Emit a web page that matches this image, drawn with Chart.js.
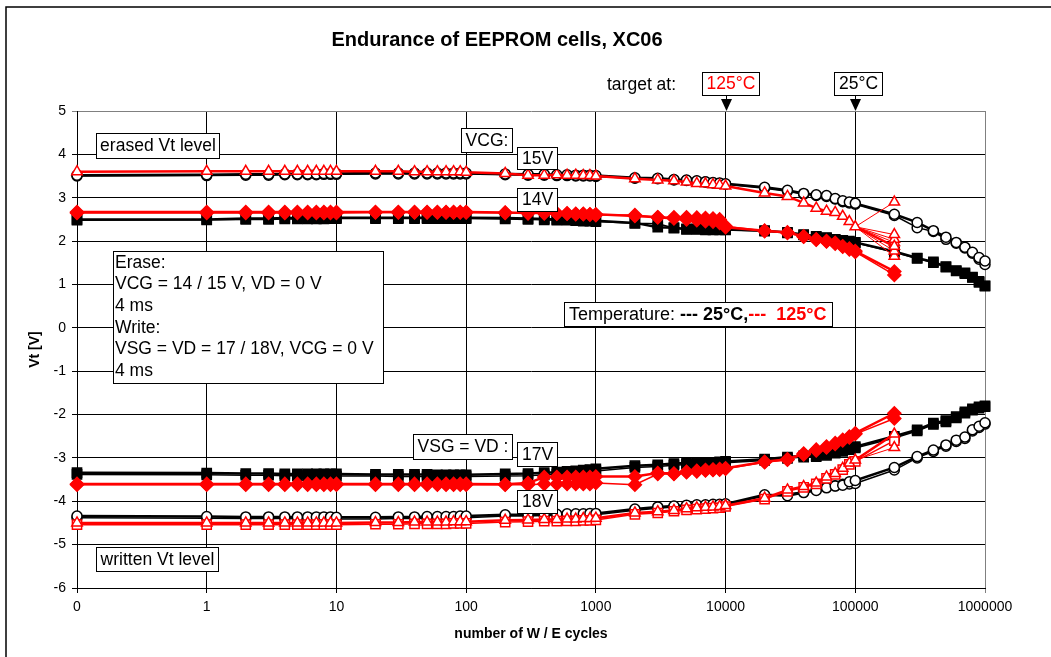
<!DOCTYPE html>
<html>
<head>
<meta charset="utf-8">
<script src="https://cdn.jsdelivr.net/npm/chart.js@4.4.0/dist/chart.umd.min.js"></script>
<style>
  html, body { margin: 0; padding: 0; background: #fff; }
</style>
</head>
<body>
<canvas id="endurance-chart" width="1051" height="657"></canvas>
<script>
// W/E cycles where the cells were measured (0 = fresh cell)
const cycles = [0,
  1, 2, 3, 4, 5, 6, 7, 8, 9, 10,
  20, 30, 40, 50, 60, 70, 80, 90, 100,
  200, 300, 400, 500, 600, 700, 800, 900, 1000,
  2000, 3000, 4000, 5000, 6000, 7000, 8000, 9000, 10000,
  20000, 30000, 40000, 50000, 60000, 70000, 80000, 90000, 100000,
  200000, 300000, 400000, 500000, 600000, 700000, 800000, 900000, 1000000];

const xTicks = [0.1, 1, 10, 100, 1000, 10000, 100000, 1000000];
const ZERO_AT = 0.1; // the "0" cycle sits one decade left of 1 on the log axis

// erased level, VCG = 15V
const e15Cold = [3.52,
  3.53, 3.54, 3.54, 3.55, 3.55, 3.55, 3.55, 3.56, 3.56, 3.56,
  3.57, 3.57, 3.57, 3.57, 3.57, 3.57, 3.57, 3.57, 3.57,
  3.55, 3.54, 3.54, 3.53, 3.53, 3.52, 3.52, 3.52, 3.51,
  3.46, 3.45, 3.42, 3.41, 3.39, 3.37, 3.35, 3.34, 3.32,
  3.24, 3.17, 3.10, 3.07, 3.05, 2.98, 2.93, 2.90, 2.87,
  2.62, 2.43, 2.24, 2.09, 1.97, 1.86, 1.74, 1.62, 1.54];
const e15Cold2 = [3.50,
  3.51, 3.52, 3.52, 3.53, 3.53, 3.53, 3.53, 3.54, 3.54, 3.54,
  3.55, 3.55, 3.55, 3.55, 3.55, 3.55, 3.55, 3.55, 3.55,
  3.53, 3.52, 3.52, 3.51, 3.51, 3.50, 3.50, 3.50, 3.49,
  3.45, 3.44, 3.41, 3.40, 3.38, 3.36, 3.34, 3.33, 3.31,
  3.22, 3.15, 3.08, 3.05, 3.03, 2.97, 2.91, 2.88, 2.85,
  2.59, 2.31, 2.22, 2.04, 1.95, 1.84, 1.72, 1.58, 1.46];
const e15Hot = [3.60,
  3.61, 3.61, 3.61, 3.61, 3.61, 3.61, 3.61, 3.61, 3.61, 3.61,
  3.61, 3.61, 3.60, 3.60, 3.60, 3.60, 3.60, 3.60, 3.59,
  3.56, 3.52, 3.52, 3.53, 3.52, 3.52, 3.51, 3.51, 3.50,
  3.44, 3.41, 3.39, 3.36, 3.33, 3.32, 3.30, 3.29, 3.27,
  3.11, 3.03, 2.88, 2.76, 2.69, 2.66, 2.57, 2.45, 2.33,
  1.88];
const e15HotAt200k = [2.90, 2.15, 2.04, 1.97, 1.77, 1.65];

// erased level, VCG = 14V
const e14Cold = [2.50,
  2.50, 2.52, 2.52, 2.53, 2.53, 2.53, 2.53, 2.53, 2.54, 2.54,
  2.54, 2.54, 2.54, 2.54, 2.54, 2.54, 2.54, 2.54, 2.54,
  2.53, 2.52, 2.51, 2.50, 2.50, 2.49, 2.48, 2.48, 2.47,
  2.42, 2.32, 2.31, 2.28, 2.28, 2.27, 2.27, 2.27, 2.27,
  2.24, 2.20, 2.15, 2.11, 2.08, 2.04, 2.02, 2.00, 1.97,
  1.76, 1.61, 1.52, 1.41, 1.32, 1.27, 1.17, 1.07, 0.97];
const e14Cold2 = [2.48,
  2.49, 2.50, 2.50, 2.51, 2.51, 2.51, 2.51, 2.51, 2.52, 2.52,
  2.52, 2.52, 2.52, 2.52, 2.52, 2.52, 2.52, 2.52, 2.52,
  2.51, 2.50, 2.49, 2.48, 2.48, 2.47, 2.46, 2.46, 2.45,
  2.41, 2.40, 2.30, 2.27, 2.27, 2.26, 2.26, 2.26, 2.26,
  2.23, 2.19, 2.14, 2.10, 2.07, 2.03, 2.01, 1.99, 1.96,
  1.74, 1.60, 1.50, 1.40, 1.31, 1.25, 1.16, 1.05, 0.96];
const e14Hot = [2.67,
  2.67, 2.67, 2.67, 2.67, 2.67, 2.67, 2.67, 2.67, 2.67, 2.67,
  2.67, 2.67, 2.67, 2.67, 2.67, 2.67, 2.67, 2.67, 2.67,
  2.66, 2.65, 2.65, 2.64, 2.64, 2.63, 2.63, 2.62, 2.62,
  2.58, 2.55, 2.52, 2.50, 2.48, 2.46, 2.45, 2.42, 2.32,
  2.24, 2.20, 2.11, 2.04, 2.00, 1.96, 1.88, 1.83, 1.77,
  1.30];
const e14Hot2 = [2.65,
  2.65, 2.65, 2.65, 2.65, 2.65, 2.65, 2.65, 2.65, 2.65, 2.65,
  2.66, 2.66, 2.66, 2.66, 2.66, 2.66, 2.66, 2.66, 2.66,
  2.65, 2.64, 2.64, 2.63, 2.63, 2.62, 2.62, 2.61, 2.60,
  2.60, 2.55, 2.55, 2.55, 2.54, 2.53, 2.52, 2.50, 2.34,
  2.23, 2.19, 2.10, 2.03, 1.99, 1.94, 1.87, 1.81, 1.75,
  1.22];

// written level, VSG = VD = 17V
const w17Cold = [-3.34,
  -3.35, -3.36, -3.36, -3.37, -3.37, -3.37, -3.37, -3.37, -3.37, -3.37,
  -3.38, -3.38, -3.38, -3.38, -3.39, -3.39, -3.39, -3.39, -3.39,
  -3.37, -3.36, -3.34, -3.33, -3.31, -3.30, -3.28, -3.27, -3.25,
  -3.18, -3.16, -3.13, -3.12, -3.11, -3.10, -3.10, -3.09, -3.08,
  -3.03, -2.98, -2.95, -2.95, -2.91, -2.86, -2.82, -2.78, -2.74,
  -2.50, -2.35, -2.20, -2.14, -2.05, -1.94, -1.87, -1.82, -1.80];
const w17Cold2 = [-3.38,
  -3.39, -3.40, -3.40, -3.41, -3.41, -3.41, -3.41, -3.41, -3.42, -3.42,
  -3.42, -3.43, -3.43, -3.43, -3.43, -3.43, -3.43, -3.43, -3.43,
  -3.42, -3.41, -3.39, -3.38, -3.36, -3.35, -3.33, -3.32, -3.30,
  -3.22, -3.20, -3.17, -3.15, -3.14, -3.13, -3.12, -3.12, -3.11,
  -3.06, -3.01, -2.98, -2.97, -2.94, -2.89, -2.85, -2.81, -2.77,
  -2.54, -2.38, -2.23, -2.17, -2.08, -1.97, -1.90, -1.85, -1.82];
const w17Hot = [-3.60,
  -3.60, -3.60, -3.60, -3.60, -3.60, -3.60, -3.60, -3.60, -3.60, -3.60,
  -3.60, -3.60, -3.60, -3.60, -3.60, -3.60, -3.60, -3.60, -3.60,
  -3.61, -3.58, -3.44, -3.44, -3.44, -3.44, -3.44, -3.44, -3.43,
  -3.43, -3.35, -3.36, -3.32, -3.30, -3.28, -3.27, -3.26, -3.24,
  -3.09, -3.03, -2.90, -2.81, -2.74, -2.66, -2.58, -2.51, -2.43,
  -1.97];
const w17Hot2 = [-3.62,
  -3.62, -3.62, -3.62, -3.62, -3.62, -3.62, -3.62, -3.62, -3.62, -3.62,
  -3.62, -3.62, -3.62, -3.62, -3.62, -3.62, -3.62, -3.62, -3.62,
  -3.62, -3.62, -3.60, -3.60, -3.60, -3.60, -3.60, -3.60, -3.58,
  -3.62, -3.37, -3.37, -3.33, -3.31, -3.29, -3.28, -3.27, -3.25,
  -3.10, -3.04, -2.92, -2.83, -2.76, -2.68, -2.60, -2.53, -2.45,
  -2.09];

// written level, VSG = VD = 18V
const w18Cold = [-4.34,
  -4.35, -4.36, -4.36, -4.36, -4.36, -4.36, -4.36, -4.36, -4.36, -4.37,
  -4.37, -4.36, -4.36, -4.35, -4.35, -4.35, -4.35, -4.34, -4.34,
  -4.31, -4.31, -4.30, -4.30, -4.29, -4.29, -4.29, -4.28, -4.28,
  -4.18, -4.13, -4.11, -4.09, -4.08, -4.08, -4.07, -4.07, -4.06,
  -3.85, -3.87, -3.80, -3.75, -3.69, -3.65, -3.63, -3.55, -3.52,
  -3.22, -2.97, -2.82, -2.70, -2.59, -2.52, -2.35, -2.27, -2.19];
const w18Cold2 = [-4.38,
  -4.39, -4.40, -4.40, -4.40, -4.40, -4.40, -4.40, -4.40, -4.40, -4.41,
  -4.41, -4.40, -4.40, -4.39, -4.39, -4.39, -4.39, -4.38, -4.38,
  -4.34, -4.34, -4.33, -4.33, -4.32, -4.32, -4.32, -4.31, -4.31,
  -4.21, -4.16, -4.13, -4.11, -4.10, -4.10, -4.09, -4.09, -4.08,
  -3.88, -3.83, -3.78, -3.73, -3.67, -3.64, -3.61, -3.60, -3.59,
  -3.28, -3.00, -2.85, -2.73, -2.62, -2.55, -2.38, -2.30, -2.22];
const w18Hot = [-4.50,
  -4.50, -4.50, -4.50, -4.50, -4.50, -4.50, -4.50, -4.50, -4.50, -4.50,
  -4.49, -4.49, -4.48, -4.48, -4.48, -4.48, -4.47, -4.47, -4.47,
  -4.44, -4.43, -4.42, -4.42, -4.41, -4.41, -4.40, -4.40, -4.39,
  -4.27, -4.24, -4.21, -4.17, -4.15, -4.14, -4.13, -4.12, -4.10,
  -3.93, -3.74, -3.66, -3.58, -3.44, -3.36, -3.24, -3.12, -3.05,
  -2.45];
const w18Hot2 = [-4.54,
  -4.54, -4.54, -4.54, -4.54, -4.54, -4.54, -4.54, -4.54, -4.54, -4.54,
  -4.53, -4.53, -4.52, -4.52, -4.52, -4.52, -4.51, -4.51, -4.51,
  -4.48, -4.47, -4.46, -4.46, -4.45, -4.45, -4.44, -4.44, -4.43,
  -4.30, -4.27, -4.23, -4.20, -4.18, -4.17, -4.16, -4.15, -4.12,
  -3.95, -3.77, -3.68, -3.60, -3.47, -3.38, -3.27, -3.15, -3.08,
  -2.60];
const w18HotAt200k = [-2.76];

const BLACK = '#000000';
const RED = '#ff0000';

function toPoints(values) {
  return values.map((v, i) => ({ x: cycles[i] === 0 ? ZERO_AT : cycles[i], y: v }));
}

function markerSize(style) {
  if (style === 'rect' || style === 'rectRot') return 6.5;
  if (style === 'triangle') return 6;
  return 5;
}

function series(values, color, style, filled, width) {
  return {
    data: toPoints(values),
    borderColor: color,
    borderWidth: width || 2.5,
    pointStyle: style,
    pointRadius: markerSize(style),
    pointBorderWidth: 1.5,
    pointBorderColor: color,
    pointBackgroundColor: filled ? color : '#ffffff',
    order: color === RED ? 0 : 1,
    clip: false,
    tension: 0
  };
}

// thin lines of the single cells that spread apart at 200000 cycles
function spread(values, ends, color, style, filled) {
  const i = cycles.indexOf(100000);
  return ends.map(end => ({
    data: [{ x: 100000, y: values[i] }, { x: 200000, y: end }],
    borderColor: color,
    borderWidth: 1,
    pointStyle: style,
    pointRadius: [0, markerSize(style)],
    pointBorderWidth: 1.5,
    pointBorderColor: color,
    pointBackgroundColor: filled ? color : '#ffffff',
    order: 0,
    clip: false,
    tension: 0
  }));
}

const datasets = [
  series(e15Cold, BLACK, 'circle', false),
  series(e15Cold2, BLACK, 'circle', false, 1.5),
  series(e14Cold, BLACK, 'rect', true),
  series(e14Cold2, BLACK, 'rect', true, 1.5),
  series(w17Cold, BLACK, 'rect', true),
  series(w17Cold2, BLACK, 'rect', true, 1.5),
  series(w18Cold, BLACK, 'circle', false),
  series(w18Cold2, BLACK, 'circle', false, 1.5),
  series(e15Hot, RED, 'triangle', false),
  ...spread(e15Hot, e15HotAt200k, RED, 'triangle', false),
  series(e14Hot, RED, 'rectRot', true),
  series(e14Hot2, RED, 'rectRot', true, 1.5),
  series(w17Hot, RED, 'rectRot', true),
  series(w17Hot2, RED, 'rectRot', true, 1.5),
  series(w18Hot, RED, 'triangle', false),
  ...spread(w18Hot, w18HotAt200k, RED, 'triangle', false),
  series(w18Hot2, RED, 'rect', false, 1.5)
];

const FONT = '"Liberation Sans", Arial, sans-serif';

function box(ctx, x1, y1, x2, y2) {
  ctx.fillStyle = '#fff';
  ctx.fillRect(x1, y1, x2 - x1, y2 - y1);
  ctx.strokeStyle = '#000';
  ctx.lineWidth = 1;
  ctx.strokeRect(x1 + 0.5, y1 + 0.5, x2 - x1, y2 - y1);
}

function labelBox(ctx, x1, y1, x2, y2, text, color) {
  box(ctx, x1, y1, x2, y2);
  ctx.fillStyle = color || '#000';
  ctx.font = '17.5px ' + FONT;
  ctx.textBaseline = 'middle';
  ctx.textAlign = 'center';
  ctx.fillText(text, (x1 + x2) / 2 + 0.5, (y1 + y2) / 2 + 1);
}

const background = {
  id: 'background',
  beforeDraw(chart) {
    const ctx = chart.ctx;
    ctx.save();
    ctx.fillStyle = '#fff';
    ctx.fillRect(0, 0, chart.width, chart.height);
    ctx.restore();
  }
};

const overlay = {
  id: 'overlay',
  afterDraw(chart) {
    const ctx = chart.ctx;
    const xs = chart.scales.x;
    const top = chart.chartArea.top;
    ctx.save();

    // outer frame
    ctx.strokeStyle = '#000';
    ctx.lineWidth = 1.5;
    ctx.strokeRect(6, 7, 1200, 800);

    // titles
    ctx.fillStyle = '#000';
    ctx.textAlign = 'center';
    ctx.textBaseline = 'alphabetic';
    ctx.font = 'bold 20px ' + FONT;
    ctx.fillText('Endurance of EEPROM cells, XC06', 497, 46);
    ctx.font = 'bold 14px ' + FONT;
    ctx.fillText('number of W / E cycles', (chart.chartArea.left + chart.chartArea.right) / 2, 638);
    ctx.save();
    ctx.translate(39, (chart.chartArea.top + chart.chartArea.bottom) / 2);
    ctx.rotate(-Math.PI / 2);
    ctx.fillText('Vt [V]', 0, 0);
    ctx.restore();

    // target markers
    ctx.font = '17.5px ' + FONT;
    ctx.textAlign = 'left';
    ctx.fillText('target at:', 607, 90);
    [[10000, 702, 759, '125°C', RED], [100000, 834, 882, '25°C', BLACK]].forEach(t => {
      const px = Math.round(xs.getPixelForValue(t[0])) + 0.5;
      labelBox(ctx, t[1], 72, t[2], 95, t[3], t[4]);
      ctx.strokeStyle = '#000';
      ctx.lineWidth = 1;
      ctx.beginPath();
      ctx.moveTo(px, 96);
      ctx.lineTo(px, 100);
      ctx.stroke();
      ctx.fillStyle = '#000';
      ctx.beginPath();
      ctx.moveTo(px - 5.5, 99);
      ctx.lineTo(px + 5.5, 99);
      ctx.lineTo(px, top);
      ctx.closePath();
      ctx.fill();
    });

    // group labels
    labelBox(ctx, 96, 133, 219, 158, 'erased Vt level');
    labelBox(ctx, 461, 128, 512, 152, 'VCG:');
    labelBox(ctx, 517, 147, 557, 169, '15V');
    labelBox(ctx, 517, 188, 557, 211, '14V');
    labelBox(ctx, 413, 434, 512, 459, 'VSG = VD :');
    labelBox(ctx, 517, 442, 557, 466, '17V');
    labelBox(ctx, 517, 490, 557, 513, '18V');
    labelBox(ctx, 96, 547, 218, 571, 'written Vt level');

    // programming conditions
    box(ctx, 113, 251, 383, 383);
    ctx.fillStyle = '#000';
    ctx.font = '17.5px ' + FONT;
    ctx.textAlign = 'left';
    ctx.textBaseline = 'middle';
    ['Erase:', 'VCG = 14 / 15 V, VD = 0 V', '4 ms', 'Write:',
     'VSG = VD = 17 / 18V, VCG = 0 V', '4 ms'].forEach((line, i) => {
      ctx.fillText(line, 115, 263 + i * 21.6);
    });

    // temperature legend
    box(ctx, 564, 302, 832, 326);
    let tx = 569;
    [['Temperature: ', '', BLACK], ['--- 25°C,', 'bold ', BLACK], ['---  125°C', 'bold ', RED]].forEach(p => {
      ctx.font = p[1] + '18px ' + FONT;
      ctx.fillStyle = p[2];
      ctx.fillText(p[0], tx, 315);
      tx += ctx.measureText(p[0]).width;
    });

    ctx.restore();
  }
};

new Chart(document.getElementById('endurance-chart'), {
  type: 'line',
  data: { datasets },
  options: {
    responsive: false,
    animation: false,
    devicePixelRatio: 1,
    layout: { padding: { top: 111, right: 66, left: 0, bottom: 0 } },
    plugins: { legend: { display: false }, tooltip: { enabled: false }, title: { display: false } },
    scales: {
      x: {
        type: 'logarithmic',
        min: 0.1,
        max: 1000000,
        afterFit(scale) { scale.height = 69; },
        afterBuildTicks(scale) { scale.ticks = xTicks.map(v => ({ value: v })); },
        ticks: {
          autoSkip: false,
          maxRotation: 0,
          padding: 6,
          color: '#000',
          font: { family: FONT, size: 14 },
          callback: v => Math.abs(v - ZERO_AT) < 1e-9 ? '0' : String(v)
        },
        grid: {
          color: c => c.tick && c.tick.value === 1000000 ? '#808080' : '#000',
          lineWidth: 1,
          tickLength: 5
        },
        border: { color: '#000', width: 1 }
      },
      y: {
        min: -6,
        max: 5,
        afterFit(scale) { scale.width = 77; },
        ticks: {
          stepSize: 1,
          padding: 6,
          color: '#000',
          font: { family: FONT, size: 14 }
        },
        grid: {
          color: c => c.tick && c.tick.value === 5 ? '#808080' : '#000',
          lineWidth: 1,
          tickLength: 5
        },
        border: { color: '#000', width: 1 }
      }
    }
  },
  plugins: [background, overlay]
});
</script>
</body>
</html>
